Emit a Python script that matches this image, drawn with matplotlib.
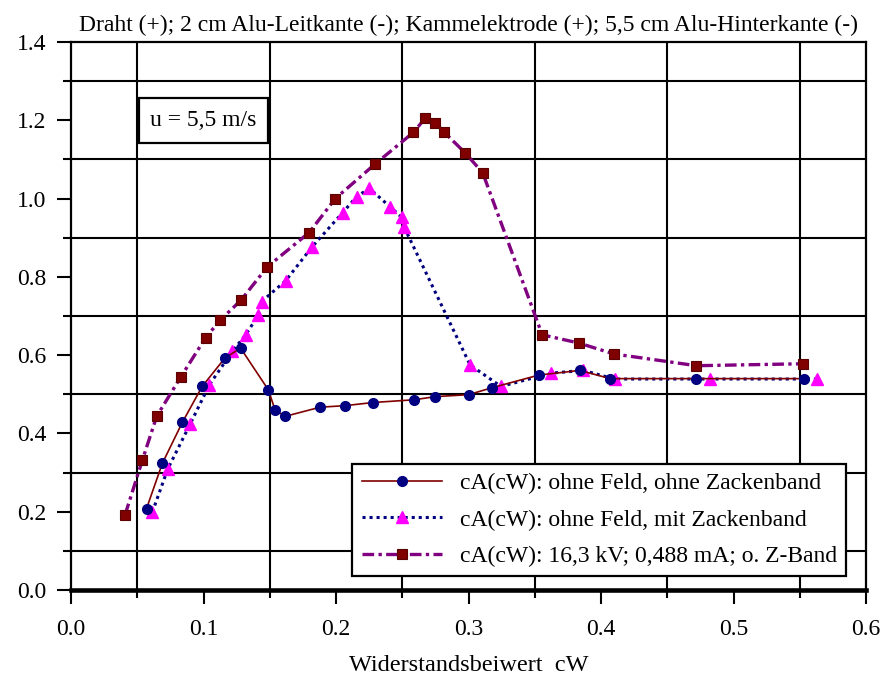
import numpy as np
import matplotlib
matplotlib.use("Agg")
import matplotlib.pyplot as plt
from matplotlib.ticker import MultipleLocator, FixedLocator, FormatStrFormatter

plt.rcParams['font.family'] = ['Liberation Serif', 'DejaVu Serif']

# cA(cW): ohne Feld, ohne Zackenband
cw_ohne = [0.057, 0.069, 0.084, 0.099, 0.116, 0.128, 0.149, 0.154, 0.1615, 0.188,
           0.207, 0.228, 0.259, 0.275, 0.300, 0.318, 0.353, 0.384, 0.407, 0.472, 0.553]
ca_ohne = [0.208, 0.324, 0.428, 0.520, 0.592, 0.618, 0.511, 0.460, 0.4435, 0.467,
           0.471, 0.479, 0.486, 0.494, 0.499, 0.517, 0.549, 0.561, 0.540, 0.540, 0.540]

# cA(cW): ohne Feld, mit Zackenband
cw_mit = [0.0614, 0.073, 0.0898, 0.1044, 0.1218, 0.1318, 0.1414, 0.1439, 0.162, 0.1818,
          0.205, 0.2156, 0.2252, 0.2408, 0.2496, 0.2513, 0.3012, 0.3245, 0.3624, 0.3867,
          0.4103, 0.4823, 0.5628]
ca_mit = [0.199, 0.309, 0.423, 0.524, 0.610, 0.652, 0.702, 0.737, 0.790, 0.876,
          0.964, 1.005, 1.026, 0.979, 0.952, 0.928, 0.575, 0.520, 0.554, 0.561,
          0.539, 0.539, 0.539]

# cA(cW): 16,3 kV; 0,488 mA; o. Z-Band
cw_feld = [0.0408, 0.0538, 0.0647, 0.083, 0.1017, 0.1125, 0.1282, 0.1483, 0.1797, 0.1995,
           0.2294, 0.2584, 0.2672, 0.2747, 0.2818, 0.2974, 0.3107, 0.3556, 0.3832, 0.4098,
           0.472, 0.5527]
ca_feld = [0.192, 0.331, 0.444, 0.545, 0.645, 0.689, 0.740, 0.826, 0.913, 1.000,
           1.088, 1.169, 1.205, 1.194, 1.169, 1.117, 1.066, 0.652, 0.631, 0.603,
           0.573, 0.578]

labels = ["cA(cW): ohne Feld, ohne Zackenband",
          "cA(cW): ohne Feld, mit Zackenband",
          "cA(cW): 16,3 kV; 0,488 mA; o. Z-Band"]

fig = plt.figure(figsize=(8.88, 6.79), dpi=100)
ax = fig.add_axes([71 / 888, 89 / 679, 795 / 888, 548 / 679])

ax.plot(cw_ohne, ca_ohne, color='#800000', lw=1.2, ls='-',
        marker='o', ms=7, mfc='#000080', mec='#000080', label=labels[0], zorder=4)
ax.plot(cw_mit, ca_mit, color='#000080', lw=2.2, ls=(0, (1, 1.3)),
        marker='^', ms=8.5, mfc='#FF00FF', mec='#FF00FF', label=labels[1], zorder=3)
ax.plot(cw_feld, ca_feld, color='#800080', lw=2.4, ls=(0, (3.5, 1.3, 1, 1.3)),
        marker='s', ms=7, mfc='#800000', mec='#5a0000', mew=0.8, label=labels[2], zorder=3)

ax.set_xlim(0, 0.6)
ax.set_ylim(0, 1.4)
ax.xaxis.set_major_locator(MultipleLocator(0.1))
ax.yaxis.set_major_locator(MultipleLocator(0.2))
ax.xaxis.set_minor_locator(FixedLocator(np.arange(0.05, 0.6, 0.1)))
ax.yaxis.set_minor_locator(FixedLocator(np.arange(0.1, 1.4, 0.2)))
ax.xaxis.set_major_formatter(FormatStrFormatter('%.1f'))
ax.yaxis.set_major_formatter(FormatStrFormatter('%.1f'))
ax.grid(which='minor', color='black', lw=1.5)
ax.tick_params(which='major', direction='out', length=10, width=1.5, labelsize=17, pad=11)
ax.tick_params(which='minor', direction='out', length=6, width=1.5)
ax.tick_params(axis='y', which='major', pad=8)

for side in ['top', 'right', 'left']:
    ax.spines[side].set_linewidth(1.6)
ax.spines['bottom'].set_linewidth(3.3)

ax.set_title("Draht (+); 2 cm Alu-Leitkante (-); Kammelektrode (+); 5,5 cm Alu-Hinterkante (-)",
             fontsize=17, pad=8)
ax.set_xlabel("Widerstandsbeiwert  cW", fontsize=17.5, labelpad=11)

ax.text(0.1, 1.2, "u = 5,5 m/s", fontsize=17, ha='center', va='center',
        bbox=dict(boxstyle='square,pad=0.5', fc='white', ec='black', lw=1.6))

leg = ax.legend(loc='lower right', bbox_to_anchor=(0.975, 0.025), fontsize=17,
                handlelength=3.4, fancybox=False, framealpha=1, edgecolor='black',
                borderpad=0.4, labelspacing=0.62, handletextpad=0.75, borderaxespad=0)
leg.get_frame().set_linewidth(1.6)

fig.savefig("out.png", dpi=100)
